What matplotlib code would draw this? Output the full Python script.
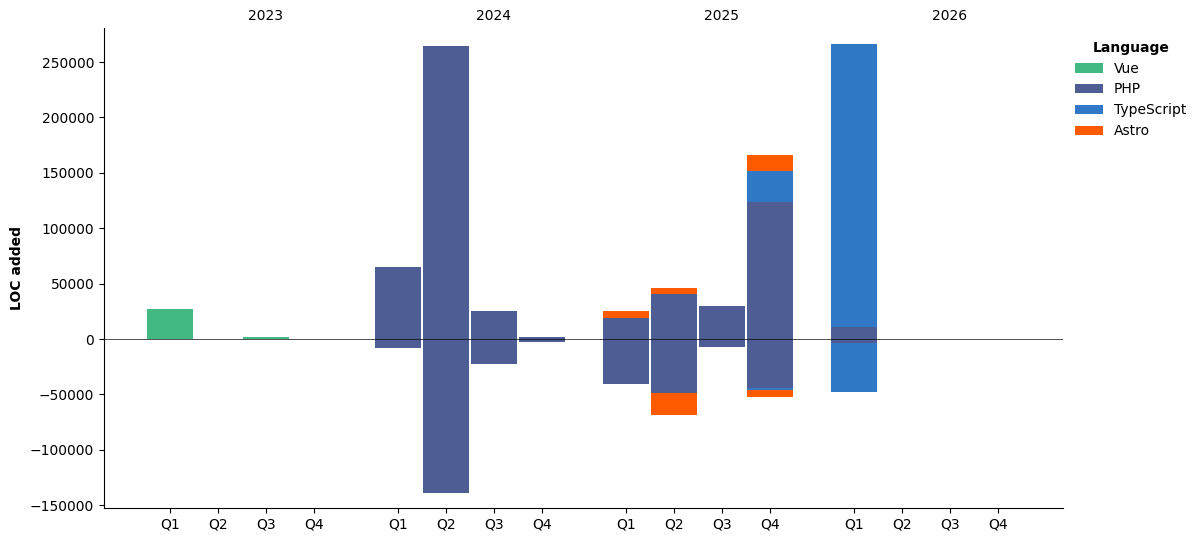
import numpy as np
import matplotlib.pyplot as plt

YEARS = ["2023", "2024", "2025", "2026"]
QUARTERS = ["Q1", "Q2", "Q3", "Q4"]
LANGUAGES = ["Vue", "PHP", "TypeScript", "Astro"]
COLORS = {"Vue": "#42b883", "PHP": "#4F5D95", "TypeScript": "#3178c6", "Astro": "#ff5a00"}

# LOC added per quarter (2023 Q1 .. 2026 Q4)
vue_added = [27000, 0, 1800, 0, 0, 0, 0, 0, 0, 0, 0, 0, 0, 0, 0, 0]
php_added = [0, 0, 0, 0, 65000, 264500, 25300, 1800, 19000, 40800, 29800, 123600, 10800, 0, 0, 0]
ts_added = [0, 0, 0, 0, 0, 0, 0, 0, 0, 0, 0, 28000, 255500, 0, 0, 0]
astro_added = [0, 0, 0, 0, 0, 0, 0, 0, 6300, 5200, 0, 14400, 0, 0, 0, 0]

# LOC removed per quarter (negative)
vue_removed = [0] * 16
php_removed = [0, 0, 0, 0, -8100, -139000, -22600, -2700, -40600, -48700, -7200, -44200, -3600, 0, 0, 0]
ts_removed = [0, 0, 0, 0, 0, 0, 0, 0, 0, 0, 0, -1600, -44200, 0, 0, 0]
astro_removed = [0, 0, 0, 0, 0, 0, 0, 0, 0, -19900, 0, -6500, 0, 0, 0, 0]

added = {"Vue": vue_added, "PHP": php_added, "TypeScript": ts_added, "Astro": astro_added}
removed = {"Vue": vue_removed, "PHP": php_removed, "TypeScript": ts_removed, "Astro": astro_removed}

YEAR_STEP = 4.75
positions = np.array([y * YEAR_STEP + q for y in range(len(YEARS)) for q in range(len(QUARTERS))])

fig = plt.figure(figsize=(12.02, 5.42), dpi=100)
ax = fig.add_axes([0.0865, 0.0627, 0.7975, 0.8855])

pos_bottom = np.zeros(len(positions))
neg_bottom = np.zeros(len(positions))
for lang in LANGUAGES:
    a = np.array(added[lang], dtype=float)
    r = np.array(removed[lang], dtype=float)
    ax.bar(positions, a, width=0.95, bottom=pos_bottom, color=COLORS[lang], label=lang)
    ax.bar(positions, r, width=0.95, bottom=neg_bottom, color=COLORS[lang])
    pos_bottom += a
    neg_bottom += r

ax.axhline(0, color="black", lw=0.6, alpha=0.8)

ax.set_xticks(positions)
ax.set_xticklabels(QUARTERS * len(YEARS))
ax.set_xlim(-1.375, 18.6)
ax.set_ylim(-152500, 280700)
ax.set_ylabel("LOC added", fontweight="bold")

secax = ax.secondary_xaxis("top")
secax.set_xticks([y * YEAR_STEP + 2 for y in range(len(YEARS))])
secax.set_xticklabels(YEARS)
secax.tick_params(length=0)
secax.spines["top"].set_visible(False)

ax.spines["top"].set_visible(False)
ax.spines["right"].set_visible(False)

leg = ax.legend(title="Language", loc="upper left", bbox_to_anchor=(1.0, 1.0), frameon=False)
leg.get_title().set_fontweight("bold")

fig.savefig("out.png", dpi=100)
